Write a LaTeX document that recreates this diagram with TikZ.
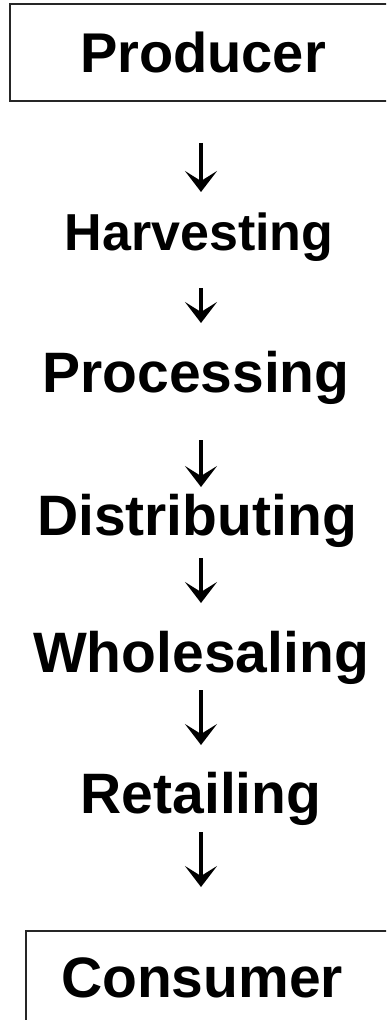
\documentclass[tikz,border=0pt]{standalone}
\usepackage{fontspec}
\setmainfont{Liberation Sans}
\usetikzlibrary{arrows.meta}
\tikzset{
  box/.style={draw=black!85, line width=1.8pt, inner sep=0pt},
  lbl/.style={inner sep=0pt, anchor=base, text height=0pt, text depth=0pt, font=\bfseries\fontsize{57}{60}\selectfont},
  flow/.style={line width=3.5pt, -{Stealth[length=21pt, width=32pt, inset=10pt]}}
}
\begin{document}
\begin{tikzpicture}[x=1pt, y=-1pt]
\useasboundingbox (0,0) rectangle (386,1020);
\clip (0,0) rectangle (386,1020);
\fill[white] (0,0) rectangle (386,1020);
\node[box, minimum width=386pt, minimum height=97pt, font=\bfseries\fontsize{56}{60}\selectfont, text height=40pt, text depth=0pt] (prod) at (203,52.5) {Producer};
\node[lbl, font=\bfseries\fontsize{52}{56}\selectfont] (harv) at (199,250) {Harvesting};
\node[lbl] (proc) at (196,392) {Processing};
\node[lbl] (dist) at (197,535) {Distributing};
\node[lbl] (whol) at (201,672) {Wholesaling};
\node[lbl] (ret) at (201,813) {Retailing};
\node[box, anchor=north west, minimum width=420pt, minimum height=130pt] (consbox) at (25,930) {};
\node[lbl] (cons) at (202,997) {Consumer};
\coordinate (col) at (201,0);
\draw[flow, shorten <=41pt, shorten >=58pt] (prod.south -| col) -- (harv.center -| col);
\draw[flow, shorten <=38pt, shorten >=69pt] (harv.center -| col) -- (proc.center -| col);
\draw[flow, shorten <=48pt, shorten >=48pt] (proc.center -| col) -- (dist.center -| col);
\draw[flow, shorten <=23pt, shorten >=69pt] (dist.center -| col) -- (whol.center -| col);
\draw[flow, shorten <=18pt, shorten >=68pt] (whol.center -| col) -- (ret.center -| col);
\draw[flow, shorten <=19pt, shorten >=43pt] (ret.center -| col) -- (consbox.north -| col);
\end{tikzpicture}
\end{document}
